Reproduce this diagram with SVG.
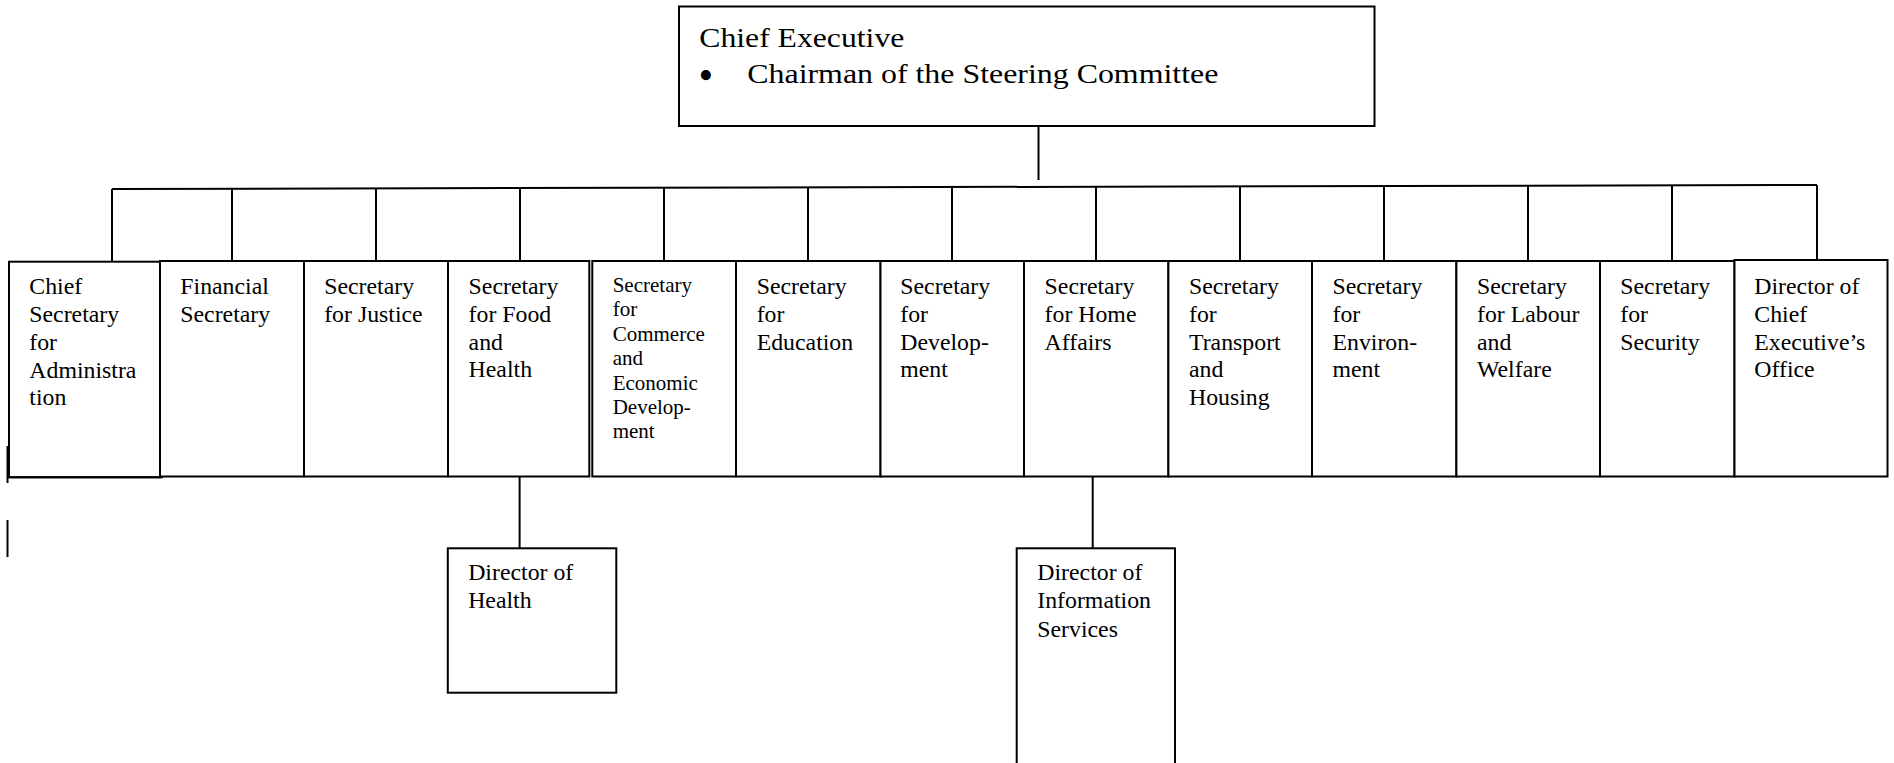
<svg xmlns="http://www.w3.org/2000/svg" width="1894" height="763" viewBox="0 0 1894 763">
<style>
.box{fill:#fff;stroke:#000;stroke-width:2}
.ln{stroke:#000;stroke-width:2;fill:none}
text{font-family:"Liberation Serif","Times New Roman",serif;fill:#000}
.t{font-size:23.8px}
.s{font-size:21px}
.ce{font-size:28px}
.bul{font-size:42px}
</style>
<rect width="1894" height="763" fill="#fff"/>
<g id="connectors">
<line class="ln" x1="1038.5" y1="126" x2="1038.5" y2="180"/>
<line class="ln" x1="112" y1="189" x2="1817" y2="185"/>
<line class="ln" x1="112" y1="189" x2="112" y2="262"/>
<line class="ln" x1="232" y1="189" x2="232" y2="261"/>
<line class="ln" x1="376" y1="188.6" x2="376" y2="261"/>
<line class="ln" x1="520" y1="188.3" x2="520" y2="261"/>
<line class="ln" x1="664" y1="188" x2="664" y2="266"/>
<line class="ln" x1="808" y1="187.6" x2="808" y2="261"/>
<line class="ln" x1="952" y1="187.3" x2="952" y2="266"/>
<line class="ln" x1="1096" y1="187" x2="1096" y2="266"/>
<line class="ln" x1="1240" y1="186.6" x2="1240" y2="261"/>
<line class="ln" x1="1384" y1="186.3" x2="1384" y2="261"/>
<line class="ln" x1="1528" y1="186" x2="1528" y2="261"/>
<line class="ln" x1="1672" y1="185.6" x2="1672" y2="261"/>
<line class="ln" x1="1817" y1="185" x2="1817" y2="261"/>
<line class="ln" x1="519.6" y1="476.5" x2="519.6" y2="548.3"/>
<line class="ln" x1="1092.7" y1="476.5" x2="1092.7" y2="548.3"/>
<line class="ln" x1="7.5" y1="446" x2="7.5" y2="483"/>
<line class="ln" x1="7.5" y1="520" x2="7.5" y2="557"/>
</g>
<g id="chief-executive">
<rect class="box" x="679" y="6.5" width="695.5" height="119.5"/>
<text class="ce" x="699.3" y="46.7" textLength="205" lengthAdjust="spacingAndGlyphs">Chief Executive</text>
<text class="bul" x="698.5" y="89">•</text>
<text class="ce" x="747.3" y="83.3" textLength="471" lengthAdjust="spacingAndGlyphs">Chairman of the Steering Committee</text>
</g>
<g id="chief-secretary">
<rect class="box" x="9" y="261.7" width="151" height="215.6"/>
<line class="ln" x1="9" y1="477.3" x2="163" y2="477.3"/>
<text class="t" x="29.3" y="294">Chief</text>
<text class="t" x="29.3" y="321.8">Secretary</text>
<text class="t" x="29.3" y="349.7">for</text>
<text class="t" x="29.3" y="377.5">Administra</text>
<text class="t" x="29.3" y="405.3">tion</text>
</g>
<g id="financial-secretary">
<rect class="box" x="160" y="261" width="144" height="215.5"/>
<text class="t" x="180.3" y="293.7">Financial</text>
<text class="t" x="180.3" y="321.6">Secretary</text>
</g>
<g id="secretary-justice">
<rect class="box" x="304" y="261" width="144" height="215.5"/>
<text class="t" x="324.2" y="293.7">Secretary</text>
<text class="t" x="324.2" y="321.6">for Justice</text>
</g>
<g id="secretary-food-health">
<rect class="box" x="448" y="261" width="141.3" height="215.5"/>
<text class="t" x="468.6" y="293.7">Secretary</text>
<text class="t" x="468.6" y="321.6">for Food</text>
<text class="t" x="468.6" y="349.5">and</text>
<text class="t" x="468.6" y="377.4">Health</text>
</g>
<g id="secretary-commerce">
<rect class="box" x="592.3" y="261" width="143.7" height="215.5"/>
<text class="s" x="612.7" y="292">Secretary</text>
<text class="s" x="612.7" y="316.4">for</text>
<text class="s" x="612.7" y="340.8">Commerce</text>
<text class="s" x="612.7" y="365.2">and</text>
<text class="s" x="612.7" y="389.6">Economic</text>
<text class="s" x="612.7" y="414">Develop-</text>
<text class="s" x="612.7" y="438.4">ment</text>
</g>
<g id="secretary-education">
<rect class="box" x="736" y="261" width="144.5" height="215.5"/>
<text class="t" x="756.7" y="293.7">Secretary</text>
<text class="t" x="756.7" y="321.6">for</text>
<text class="t" x="756.7" y="349.5">Education</text>
</g>
<g id="secretary-development">
<rect class="box" x="880.5" y="261" width="143.5" height="215.5"/>
<text class="t" x="900.3" y="293.7">Secretary</text>
<text class="t" x="900.3" y="321.6">for</text>
<text class="t" x="900.3" y="349.5">Develop-</text>
<text class="t" x="900.3" y="377.4">ment</text>
</g>
<g id="secretary-home-affairs">
<rect class="box" x="1024" y="261" width="144.4" height="215.5"/>
<text class="t" x="1044.6" y="293.7">Secretary</text>
<text class="t" x="1044.6" y="321.6">for Home</text>
<text class="t" x="1044.6" y="349.5">Affairs</text>
</g>
<g id="secretary-transport-housing">
<rect class="box" x="1168.4" y="261" width="143.6" height="215.5"/>
<text class="t" x="1189" y="293.7">Secretary</text>
<text class="t" x="1189" y="321.6">for</text>
<text class="t" x="1189" y="349.5">Transport</text>
<text class="t" x="1189" y="377.4">and</text>
<text class="t" x="1189" y="405.3">Housing</text>
</g>
<g id="secretary-environment">
<rect class="box" x="1312" y="261" width="144.4" height="215.5"/>
<text class="t" x="1332.5" y="293.7">Secretary</text>
<text class="t" x="1332.5" y="321.6">for</text>
<text class="t" x="1332.5" y="349.5">Environ-</text>
<text class="t" x="1332.5" y="377.4">ment</text>
</g>
<g id="secretary-labour-welfare">
<rect class="box" x="1456.4" y="261" width="143.6" height="215.5"/>
<text class="t" x="1477" y="293.7">Secretary</text>
<text class="t" x="1477" y="321.6">for Labour</text>
<text class="t" x="1477" y="349.5">and</text>
<text class="t" x="1477" y="377.4">Welfare</text>
</g>
<g id="secretary-security">
<rect class="box" x="1600" y="261" width="134.5" height="215.5"/>
<text class="t" x="1620.3" y="293.7">Secretary</text>
<text class="t" x="1620.3" y="321.6">for</text>
<text class="t" x="1620.3" y="349.5">Security</text>
</g>
<g id="director-ceo">
<rect class="box" x="1734.5" y="260" width="153" height="216.5"/>
<text class="t" x="1754.3" y="293.7">Director of</text>
<text class="t" x="1754.3" y="321.6">Chief</text>
<text class="t" x="1754.3" y="349.5">Executive’s</text>
<text class="t" x="1754.3" y="377.4">Office</text>
</g>
<g id="director-health">
<rect class="box" x="447.8" y="548.3" width="168.5" height="144.4"/>
<text class="t" x="468.2" y="580">Director of</text>
<text class="t" x="468.2" y="608.2">Health</text>
</g>
<g id="director-information-services">
<rect class="box" x="1016.7" y="548.3" width="158.3" height="230"/>
<text class="t" x="1037.3" y="580">Director of</text>
<text class="t" x="1037.3" y="608.3">Information</text>
<text class="t" x="1037.3" y="636.6">Services</text>
</g>
</svg>
